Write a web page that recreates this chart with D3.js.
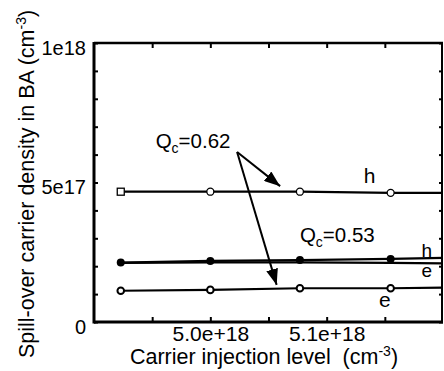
<!DOCTYPE html>
<html lang="en">
<head>
<meta charset="utf-8">
<title>Spill-over carrier density</title>
<script src="https://cdn.jsdelivr.net/npm/d3@7"></script>
<style>
  body { margin: 0; background: #fff; }
  text { font-family: "Liberation Sans", Arial, sans-serif; fill: #000; }
</style>
</head>
<body>
<script>
// carrier injection level (cm^-3); last entry is where the lines end, no marker there
var inj = [4.923e18, 5.0e18, 5.077e18, 5.155e18, 5.2e18];
var n_markers = 4;

// spill-over carrier density in BA (cm^-3)
var h_q62 = [4.67e17, 4.67e17, 4.67e17, 4.63e17, 4.63e17];
var h_q53 = [2.13e17, 2.19e17, 2.22e17, 2.26e17, 2.30e17];
var e_q53 = [2.12e17, 2.14e17, 2.14e17, 2.12e17, 2.10e17];
var e_q62 = [1.12e17, 1.15e17, 1.21e17, 1.21e17, 1.23e17];

var x_ticks = [4.95e18, 5.0e18, 5.05e18, 5.1e18, 5.15e18];
var x_labels = {500: "5.0e+18", 510: "5.1e+18"};
var y_ticks = d3.range(0, 11).map(function(i) { return i * 1e17; });
var y_labels = {0: "0", 5: "5e17", 10: "1e18"};

var width = 444, height = 371;
var m_left = 94, m_right = 443, m_top = 43, m_bottom = 322;

var svg = d3.select("body").append("svg")
    .attr("width", width)
    .attr("height", height);

var x = d3.scaleLinear().domain([4.9e18, 5.2e18]).range([m_left, m_right]);
var y = d3.scaleLinear().domain([0, 1e18]).range([m_bottom, m_top]);

// ticks point inward on all four sides
var fmt_x = function(d) { return x_labels[Math.round(d / 1e16)] || ""; };
var fmt_y = function(d) { return y_labels[Math.round(d / 1e17)] || ""; };

var gx = svg.append("g").attr("transform", "translate(0," + m_bottom + ")")
    .call(d3.axisBottom(x).tickValues(x_ticks).tickSize(-5).tickPadding(4).tickFormat(fmt_x));
var gx2 = svg.append("g").attr("transform", "translate(0," + m_top + ")")
    .call(d3.axisTop(x).tickValues(x_ticks).tickSize(-5).tickFormat(""));
var gy = svg.append("g").attr("transform", "translate(" + m_left + ",0)")
    .call(d3.axisLeft(y).tickValues(y_ticks).tickSize(-4).tickPadding(8).tickFormat(fmt_y));
var gy2 = svg.append("g").attr("transform", "translate(" + m_right + ",0)")
    .call(d3.axisRight(y).tickValues(y_ticks).tickSize(-4).tickFormat(""));

[gx, gx2, gy, gy2].forEach(function(g) {
    g.select(".domain").remove();
    g.selectAll(".tick line").attr("stroke", "#000").attr("stroke-width", 2);
    g.selectAll(".tick text").attr("font-size", 21).attr("font-family", "Liberation Sans, Arial, sans-serif");
});
gy.selectAll(".tick text").attr("font-size", 20).attr("dy", "0.55em");
gx.selectAll(".tick text").attr("dy", "0.71em");

// frame
svg.append("line").attr("x1", m_left).attr("x2", m_right).attr("y1", m_bottom).attr("y2", m_bottom)
    .attr("stroke", "#000").attr("stroke-width", 3);
svg.append("line").attr("x1", m_left).attr("x2", m_right).attr("y1", m_top).attr("y2", m_top)
    .attr("stroke", "#000").attr("stroke-width", 2.5);
svg.append("line").attr("x1", m_left).attr("x2", m_left).attr("y1", m_top - 1).attr("y2", m_bottom + 1.5)
    .attr("stroke", "#000").attr("stroke-width", 3);
svg.append("line").attr("x1", m_right - 1).attr("x2", m_right - 1).attr("y1", m_top).attr("y2", m_bottom)
    .attr("stroke", "#000").attr("stroke-width", 2);

// series lines
var line = d3.line()
    .x(function(d, i) { return x(inj[i]); })
    .y(function(d) { return y(d); });

[h_q62, e_q53, h_q53, e_q62].forEach(function(s) {
    svg.append("path").datum(s)
        .attr("d", line)
        .attr("fill", "none")
        .attr("stroke", "#000")
        .attr("stroke-width", 2.2);
});

// markers
var pts = function(s) { return s.slice(0, n_markers); };

svg.append("g").selectAll("circle").data(pts(h_q62).slice(1))
    .enter().append("circle")
    .attr("cx", function(d, i) { return x(inj[i + 1]); })
    .attr("cy", function(d) { return y(d); })
    .attr("r", 3.5).attr("fill", "#fff").attr("stroke", "#000").attr("stroke-width", 1.3);
svg.append("rect")
    .attr("x", x(inj[0]) - 3.5).attr("y", y(h_q62[0]) - 3.5)
    .attr("width", 7).attr("height", 7)
    .attr("fill", "#fff").attr("stroke", "#000").attr("stroke-width", 1.3);

svg.append("g").selectAll("circle").data(pts(h_q53))
    .enter().append("circle")
    .attr("cx", function(d, i) { return x(inj[i]); })
    .attr("cy", function(d) { return y(d); })
    .attr("r", 4).attr("fill", "#000");

svg.append("g").selectAll("circle").data(pts(e_q62))
    .enter().append("circle")
    .attr("cx", function(d, i) { return x(inj[i]); })
    .attr("cy", function(d) { return y(d); })
    .attr("r", 3.3).attr("fill", "#fff").attr("stroke", "#000").attr("stroke-width", 2);

// arrows from the Qc=0.62 label
svg.append("defs").append("marker")
    .attr("id", "head")
    .attr("viewBox", "0 0 16 12")
    .attr("refX", 16).attr("refY", 6)
    .attr("markerWidth", 16).attr("markerHeight", 12)
    .attr("markerUnits", "userSpaceOnUse")
    .attr("orient", "auto")
    .append("path").attr("d", "M0,0 L16,6 L0,12 Z").attr("fill", "#000");

var arrow_from = [5.023e18, 6.09e17];
var arrow_to = [[5.060e18, 4.87e17], [5.057e18, 1.33e17]];
arrow_to.forEach(function(t) {
    svg.append("line")
        .attr("x1", x(arrow_from[0])).attr("y1", y(arrow_from[1]))
        .attr("x2", x(t[0])).attr("y2", y(t[1]))
        .attr("stroke", "#000").attr("stroke-width", 2)
        .attr("marker-end", "url(#head)");
});

// annotations
function qlabel(xv, yv, val) {
    var t = svg.append("text").attr("x", x(xv)).attr("y", y(yv)).attr("font-size", 20.5);
    t.append("tspan").text("Q");
    t.append("tspan").attr("font-size", 14).attr("dy", 5).text("c");
    t.append("tspan").attr("dy", -5).text("=" + val);
}
qlabel(4.953e18, 6.24e17, "0.62");
qlabel(5.077e18, 2.87e17, "0.53");

var letters = [
    {t: "h", x: 5.137e18, y: 4.98e17, fs: 21},
    {t: "h", x: 5.186e18, y: 2.34e17, fs: 19},
    {t: "e", x: 5.186e18, y: 1.62e17, fs: 19},
    {t: "e", x: 5.150e18, y: 0.54e17, fs: 21}
];
svg.append("g").selectAll("text").data(letters)
    .enter().append("text")
    .attr("x", function(d) { return x(d.x); })
    .attr("y", function(d) { return y(d.y); })
    .attr("text-anchor", "middle")
    .attr("font-size", function(d) { return d.fs; })
    .text(function(d) { return d.t; });

// axis titles
var xt = svg.append("text")
    .attr("x", 264).attr("y", 364)
    .attr("text-anchor", "middle")
    .attr("font-size", 21.5)
    .attr("xml:space", "preserve");
xt.append("tspan").text("Carrier injection level  (cm");
xt.append("tspan").attr("font-size", 14).attr("dy", -8).text("-3");
xt.append("tspan").attr("dy", 8).text(")");

var yt = svg.append("text")
    .attr("transform", "translate(34,184) rotate(-90)")
    .attr("text-anchor", "middle")
    .attr("font-size", 21.5);
yt.append("tspan").text("Spill-over carrier density in BA (cm");
yt.append("tspan").attr("font-size", 14).attr("dy", -8).text("-3");
yt.append("tspan").attr("dy", 8).text(")");
</script>
</body>
</html>
